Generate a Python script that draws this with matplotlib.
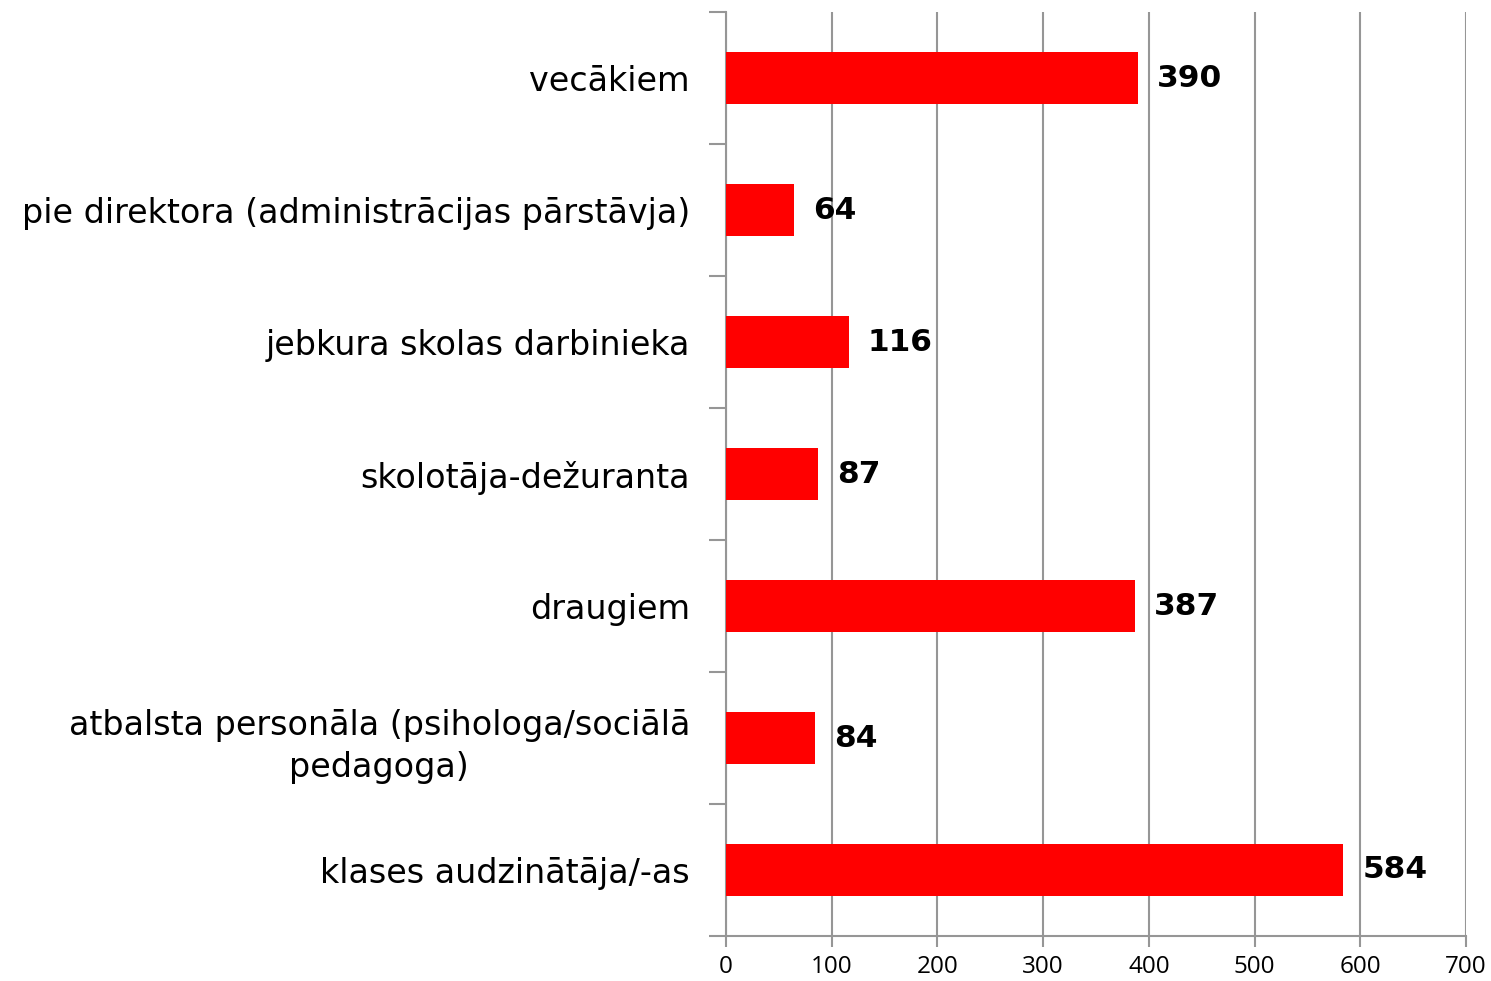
import matplotlib
matplotlib.use("Agg")
import matplotlib.pyplot as plt

# Dati (no apakšas uz augšu)
kategorijas = [
    "klases audzinātāja/-as",
    "atbalsta personāla (psihologa/sociālā\npedagoga)",
    "draugiem",
    "skolotāja-dežuranta",
    "jebkura skolas darbinieka",
    "pie direktora (administrācijas pārstāvja)",
    "vecākiem",
]
vertibas = [584, 84, 387, 87, 116, 64, 390]
x_ticks = [0, 100, 200, 300, 400, 500, 600, 700]

pelēks = "#969696"

fig = plt.figure(figsize=(14.91, 9.81), dpi=100)
ax = fig.add_axes([726 / 1491, 1 - 936 / 981, 740 / 1491, 924 / 981])

y = list(range(len(kategorijas)))
ax.barh(y, vertibas, height=0.4, color="#ff0000", zorder=3)

# Vērtību uzraksti
for yi, v in zip(y, vertibas):
    ax.text(v + 18, yi, str(v), va="center", ha="left",
            fontsize=22.5, fontweight="bold", color="black", zorder=4)

ax.set_xlim(0, 700)
ax.set_ylim(-0.5, len(kategorijas) - 0.5)
ax.set_xticks(x_ticks)
ax.set_xticklabels([str(t) for t in x_ticks], fontsize=17.5, family="Open Sans")

# Vertikālās režģa līnijas
ax.grid(axis="x", color=pelēks, linewidth=1.5, zorder=0)
ax.grid(axis="y", visible=False)

# Y ass ar atzīmēm starp kategorijām
ax.set_yticks([i - 0.5 for i in range(len(kategorijas) + 1)])
ax.set_yticklabels([])
ax.set_yticks(y, minor=True)
ax.set_yticklabels(kategorijas, minor=True, fontsize=24, multialignment="center",
                   linespacing=1.35)
ax.tick_params(axis="y", which="minor", length=0, pad=26)
ax.tick_params(axis="y", which="major", length=12, width=1.5, color=pelēks)
ax.tick_params(axis="x", length=8, width=1.5, color=pelēks, pad=6)

for s in ["top", "right"]:
    ax.spines[s].set_visible(False)
for s in ["left", "bottom"]:
    ax.spines[s].set_color(pelēks)
    ax.spines[s].set_linewidth(1.5)

fig.savefig("out.png", dpi=100)
